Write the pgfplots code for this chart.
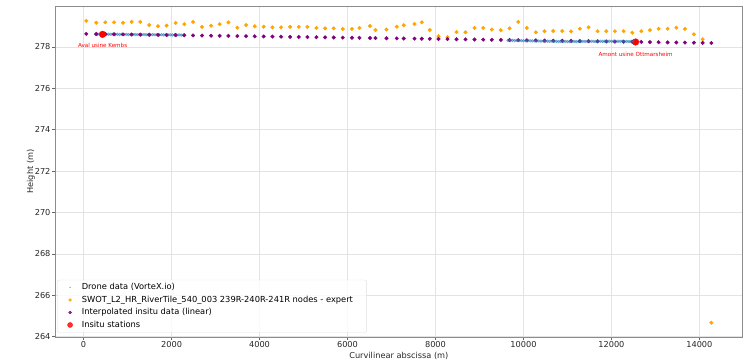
\documentclass[border=0pt]{standalone}
\usepackage{fontspec}
\setmainfont{DejaVu Sans}
\usepackage{pgfplots}
\pgfplotsset{compat=1.18}
\usepackage{pgfplotstable}
\definecolor{mplorange}{HTML}{FFA500}
\definecolor{mplpurple}{HTML}{800080}
\definecolor{mplblue}{HTML}{1F77B4}
\definecolor{droneleg}{HTML}{7FB2DE}
\definecolor{gridgray}{HTML}{E3E3E3}

% nodes: x, SWOT height, interpolated insitu height
\pgfplotstableread{
x y ins
61 279.26 278.633
289 279.17 278.626
494 279.19 278.620
692 279.19 278.613
896 279.17 278.607
1092 279.21 278.601
1290 279.21 278.595
1494 279.06 278.589
1692 279.00 278.582
1888 279.03 278.576
2093 279.16 278.570
2291 279.10 278.564
2489 279.21 278.558
2693 278.97 278.551
2898 279.03 278.545
3094 279.10 278.539
3292 279.19 278.533
3496 278.93 278.527
3694 279.06 278.520
3890 279.00 278.514
4095 278.98 278.508
4293 278.95 278.502
4490 278.95 278.496
4695 278.97 278.489
4891 278.97 278.483
5089 278.97 278.477
5294 278.92 278.471
5491 278.90 278.465
5687 278.90 278.459
5892 278.87 278.452
6101 278.87 278.446
6272 278.92 278.440
6511 279.01 278.433
6636 278.82 278.429
6886 278.84 278.421
7120 278.98 278.414
7279 279.05 278.409
7523 279.11 278.402
7689 279.19 278.397
7871 278.82 278.391
8069 278.52 278.385
8274 278.47 278.378
8479 278.72 278.372
8683 278.71 278.366
8888 278.92 278.359
9086 278.92 278.353
9281 278.84 278.347
9486 278.81 278.341
9684 278.90 278.335
9882 279.21 278.329
10077 278.92 278.323
10282 278.71 278.316
10480 278.76 278.310
10678 278.77 278.304
10883 278.77 278.298
11083 278.75 278.292
11283 278.88 278.285
11481 278.95 278.279
11686 278.76 278.273
11884 278.76 278.267
12079 278.76 278.260
12277 278.76 278.254
12475 278.69 278.248
12680 278.76 278.242
12875 278.81 278.236
13073 278.88 278.229
13278 278.88 278.223
13476 278.93 278.217
13672 278.87 278.211
13876 278.61 278.205
14074 278.37 278.199
14272 264.67 278.192
}\nodes

\pgfplotstableread{
x y
270 278.622
320 278.618
370 278.625
420 278.615
470 278.620
520 278.612
570 278.618
620 278.610
670 278.616
720 278.607
770 278.613
820 278.605
870 278.611
920 278.603
970 278.609
1020 278.600
1070 278.606
1120 278.598
1170 278.604
1220 278.596
1270 278.602
1320 278.594
1370 278.600
1420 278.592
1470 278.598
1520 278.590
1570 278.596
1620 278.588
1670 278.594
1720 278.586
1770 278.592
1820 278.584
1870 278.590
1920 278.582
1970 278.588
2020 278.580
2070 278.586
2120 278.578
2170 278.584
2220 278.576
2270 278.582
}\droneA

\pgfplotstableread{
x y
9650 278.318
9700 278.312
9750 278.316
9800 278.308
9850 278.313
9900 278.305
9950 278.310
10000 278.300
10050 278.305
10100 278.296
10150 278.300
10200 278.290
10250 278.295
10300 278.286
10350 278.290
10400 278.280
10450 278.285
10500 278.276
10550 278.280
10600 278.272
10650 278.276
10700 278.268
10750 278.272
10800 278.265
10850 278.269
10900 278.262
10950 278.267
11000 278.260
11050 278.265
11100 278.260
11150 278.266
11200 278.262
11250 278.268
11300 278.263
11350 278.270
11400 278.265
11450 278.271
11500 278.266
11550 278.272
11600 278.267
11650 278.273
11700 278.268
11750 278.274
11800 278.269
11850 278.275
11900 278.270
11950 278.276
12000 278.271
12050 278.276
12100 278.270
12150 278.275
12200 278.268
12250 278.273
12300 278.266
12350 278.270
12400 278.263
12450 278.267
12500 278.262
}\droneB

\pgfplotstableread{
x y
432 278.61
12550 278.24
}\stations

\begin{document}
\begin{tikzpicture}
\begin{axis}[
  scale only axis,
  width=687.7pt, height=331pt,
  xmin=-650, xmax=14985,
  ymin=263.98, ymax=279.98,
  xtick={0,2000,...,14000},
  ytick={264,266,...,278},
  scaled x ticks=false, scaled y ticks=false,
  /pgf/number format/assume math mode=true,
  /pgf/number format/1000 sep={},
  /pgf/number format/fixed,
  tick label style={font=\fontsize{8.2}{9}\selectfont, text=black!85},
  xticklabel style={yshift=2pt},
  yticklabel style={xshift=2pt},
  label style={font=\fontsize{8.2}{9}\selectfont, text=black!85},
  xlabel={Curvilinear abscissa (m)},
  ylabel={Height (m)},
  xlabel style={yshift=2.5pt},
  ylabel style={yshift=-7pt},
  grid=major,
  major grid style={gridgray, line width=0.6pt},
  axis line style={black!45, line width=0.6pt},
  tick align=outside,
  major tick length=3pt,
  tick style={black!60, line width=0.5pt},
  xtick pos=bottom, ytick pos=left,
  legend cell align=left,
  legend style={
    at={(0,0)}, anchor=south west, xshift=2.3pt, yshift=4.3pt,
    font=\fontsize{8.3}{9}\selectfont,
    draw=black!12, rounded corners=2pt, fill=white, fill opacity=0.8, text opacity=1,
    inner xsep=3pt, inner ysep=2pt, row sep=1.5pt,
    nodes={inner sep=1.6pt},
  },
  legend image code/.code={\path (0cm,0cm) (0.68cm,0cm); \path[#1] plot coordinates {(0.33cm,0cm)};},
]
\addplot[only marks, mark=*, mark size=1.5pt, color=mplblue, opacity=0.5,
  legend image post style={mark size=0.5pt, color=droneleg, opacity=1}]
  table[x=x, y=y] {\droneA};
\addlegendentry{Drone data (VorteX.io)}
\addplot[only marks, mark=*, mark size=1.8pt, color=mplorange,
  legend image post style={mark size=1.4pt}]
  table[x=x, y=y] {\nodes};
\addlegendentry{SWOT\_L2\_HR\_RiverTile\_540\_003 239R-240R-241R nodes - expert\rule{9pt}{0pt}}
\addplot[only marks, mark=*, mark size=1.8pt, color=mplpurple,
  legend image post style={mark size=1.4pt}]
  table[x=x, y=ins] {\nodes};
\addlegendentry{Interpolated insitu data (linear)}
\addplot[only marks, mark=*, mark size=3.3pt, color=red,
  legend image post style={mark size=2.5pt}]
  table[x=x, y=y] {\stations};
\addlegendentry{Insitu stations}
\addplot[only marks, mark=*, mark size=1.5pt, color=mplblue, opacity=0.5, forget plot]
  table[x=x, y=y] {\droneB};
\node[text=red, font=\fontsize{5.6}{6}\selectfont] at (axis cs:432,278.07) {Aval usine Kembs};
\node[text=red, font=\fontsize{5.6}{6}\selectfont] at (axis cs:12550,277.65) {Amont usine Ottmarsheim};
\end{axis}
\pgfresetboundingbox
\path ([shift={(-55pt,-23pt)}]current axis.south west) rectangle ([shift={(2.3pt,6pt)}]current axis.north east);
\end{tikzpicture}
\end{document}
